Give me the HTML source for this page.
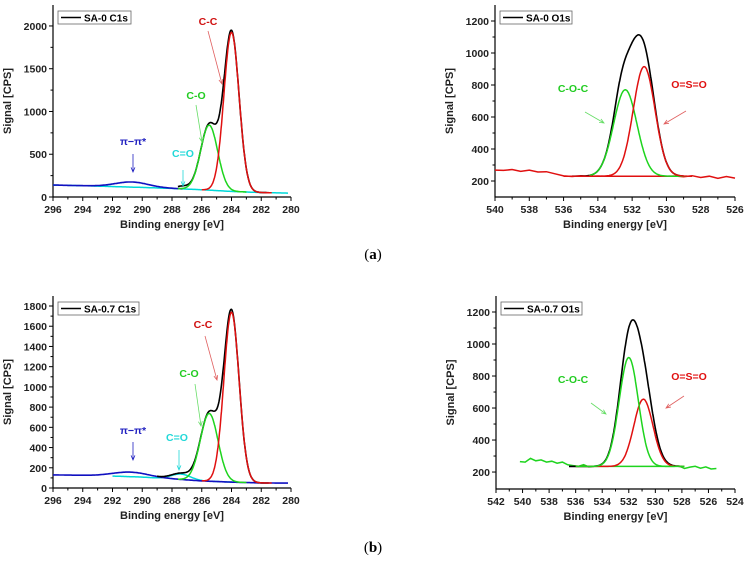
<!DOCTYPE html>
<html><head><meta charset="utf-8"><style>
html,body{margin:0;padding:0;background:#fff;width:747px;height:562px;overflow:hidden}
svg{display:block;font-family:"Liberation Sans",sans-serif}
.tk{font-size:10.5px;font-weight:bold;fill:#222}
.tt{font-size:11px;font-weight:bold;fill:#222}
</style></head><body>
<svg id="fig" width="747" height="562" viewBox="0 0 747 562">
<text x="373" y="259" font-family="Liberation Serif" font-size="15" text-anchor="middle">(<tspan font-weight="bold">a</tspan>)</text>
<text x="373" y="552" font-family="Liberation Serif" font-size="15" text-anchor="middle">(<tspan font-weight="bold">b</tspan>)</text>
</svg>
<script>
// ---- data: peak components (center eV, height CPS above baseline, FWHM eV) ----
const aCenters=[284.0,285.5,287.3,290.7];
const aHeights=[1860,760,30,60];
const aFwhm=[1.2,1.35,1.0,2.6];
const aBaseX=[296,294,292,290,288,286,284,282,280];
const aBaseY=[140,132,122,112,100,85,65,52,45];

const bCenters=[531.3,532.4];
const bHeights=[685,540];
const bFwhm=[1.5,1.6];
const bBgX=[540,539.5,539,538.5,538,537.5,537,536.5,536,535.5,535,534.5,534,533.5,533,532.5,532,531.5,531,530.5,530,529.5,529,528.5,528,527.5,527,526.5,526];
const bBgY=[268,266,272,260,268,256,258,245,232,228,233,230,231,230,230,230,230,230,230,230,230,231,226,233,222,230,217,228,218];

const cCenters=[284.0,285.5,287.4,290.8];
const cHeights=[1680,670,60,45];
const cFwhm=[1.2,1.4,1.5,2.8];
const cBaseX=[296,294,292,290,288,286,284,282,280.2];
const cBaseY=[130,125,118,108,90,70,58,50,48];

const dCenters=[532.0,530.9];
const dHeights=[680,420];
const dFwhm=[1.7,1.7];
const dResidual=[531.3,70,2.4];
const dBgX=[540.2,539.8,539.4,539,538.6,538.2,537.8,537.4,537,536.6,536.2,535.8,535.4,535,534.6,534.2,533.8,533.4,533,532.6,532.2,531.8,531.4,531,530.6,530.2,529.8,529.4,529,528.6,528.2,527.8,527.4,527,526.6,526.2,525.8,525.4];
const dBgY=[265,262,285,270,276,262,268,255,262,245,240,236,246,232,236,235,235,235,235,235,235,235,235,235,235,235,235,235,235,235,238,222,231,236,224,232,219,222];

const xTicksC1s=[296,294,292,290,288,286,284,282,280];
const xTicksB=[540,538,536,534,532,530,528,526];
const xTicksD=[542,540,538,536,534,532,530,528,526,524];
const yTicksA=[0,500,1000,1500,2000];
const yTicksB=[200,400,600,800,1000,1200];
const yTicksC=[0,200,400,600,800,1000,1200,1400,1600,1800];

const NS='http://www.w3.org/2000/svg';
const svg=document.getElementById('fig');
function mk(tag,attrs,parent){const e=document.createElementNS(NS,tag);for(const k in attrs)e.setAttribute(k,attrs[k]);(parent||svg).appendChild(e);return e;}
function gauss(x,c,h,f){const s=f/2.3548;return h*Math.exp(-(x-c)*(x-c)/(2*s*s));}
function interp(xs,ys,x){for(let i=0;i<xs.length-1;i++){const a=xs[i],b=xs[i+1];if((x<=a&&x>=b)||(x>=a&&x<=b)){const t=(x-a)/(b-a);return ys[i]+t*(ys[i+1]-ys[i]);}}return x>Math.max(xs[0],xs[xs.length-1])===(xs[0]>xs[1])?ys[0]:ys[ys.length-1];}

function panel(p){
  const g=mk('g',{});
  
  
  const sx=v=>p.l+(p.x0-v)/(p.x0-p.x1)*(p.r-p.l);
  const sy=v=>p.b-(v-p.y0)/(p.y1-p.y0)*(p.b-p.t);
  const ax=mk('path',{d:`M${p.l},${p.t}V${p.b}H${p.r}`,stroke:'#000','stroke-width':1.2,fill:'none'},g);
  
  
  p.xt.forEach((v,i)=>{
    const x=sx(v);
    mk('line',{x1:x,x2:x,y1:p.b,y2:p.b+4,stroke:'#000'},g);
    if(i<p.xt.length-1){const xm=sx((v+p.xt[i+1])/2);mk('line',{x1:xm,x2:xm,y1:p.b,y2:p.b+2.5,stroke:'#000'},g);}
    const t=mk('text',{x:x,y:p.b+16,'text-anchor':'middle',class:'tk'},g);t.textContent=v;
    
    
  });
  p.yt.forEach((v,i)=>{
    const y=sy(v);
    mk('line',{x1:p.l-4,x2:p.l,y1:y,y2:y,stroke:'#000'},g);
    const step=p.yt[1]-p.yt[0];const ym=sy(v+step/2);
    if(ym>p.t)mk('line',{x1:p.l-2.5,x2:p.l,y1:ym,y2:ym,stroke:'#000'},g);
    const t=mk('text',{x:p.l-6,y:y+4,'text-anchor':'end',class:'tk'},g);t.textContent=v;
    
    
  });
  const xt=mk('text',{x:(p.l+p.r)/2,y:p.b+31,'text-anchor':'middle',class:'tt'},g);xt.textContent='Binding energy [eV]';
  
  
  const cy=(p.t+p.b)/2;
  const yt=mk('text',{x:p.l-42,y:cy,'text-anchor':'middle',class:'tt',transform:`rotate(-90 ${p.l-42} ${cy})`},g);yt.textContent='Signal [CPS]';
  
  
  const lg=mk('g',{},g);
  
  
  mk('rect',{x:p.l+5,y:p.t+6,width:p.legW,height:13,fill:'#fff',stroke:'#666','stroke-width':0.8},lg);
  mk('line',{x1:p.l+8,x2:p.l+28,y1:p.t+12.5,y2:p.t+12.5,stroke:'#000','stroke-width':1.5},lg);
  const lt=mk('text',{x:p.l+31,y:p.t+16.5,style:'font-size:10px;font-weight:bold'},lg);lt.textContent=p.legend;
  g.curve=function(fn,xa,xb,color,name,w){
    let d='';const n=220;
    for(let i=0;i<=n;i++){const x=xa+(xb-xa)*i/n;d+=(i?'L':'M')+sx(x).toFixed(1)+','+sy(fn(x)).toFixed(1);}
    const e=mk('path',{d:d,stroke:color,'stroke-width':w||1.5,fill:'none'},g);
    
    
  };
  g.pts=function(xs,ys,color,name){
    const d=xs.map((x,i)=>(i?'L':'M')+sx(x).toFixed(1)+','+sy(ys[i]).toFixed(1)).join('');
    const e=mk('path',{d:d,stroke:color,'stroke-width':1.5,fill:'none'},g);
    
    
  };
  g.label=function(txt,x,y,color,name){
    const t=mk('text',{x:x,y:y,fill:color,'text-anchor':'middle',style:'font-size:10.5px;font-weight:bold'},g);t.textContent=txt;
    
    
  };
  g.arrow=function(x1,y1,x2,y2,color,name){
    const a=Math.atan2(y2-y1,x2-x1),L=5;
    const e=mk('path',{d:`M${x1},${y1}L${x2},${y2}M${x2-L*Math.cos(a-0.4)},${y2-L*Math.sin(a-0.4)}L${x2},${y2}L${x2-L*Math.cos(a+0.4)},${y2-L*Math.sin(a+0.4)}`,stroke:color,'stroke-width':0.8,fill:'none'},g);
    
    
  };
  return g;
}

// ---- Panel A ----
(function(){
  const p={name:'panel-sa0-c1s',l:53,r:291,t:5,b:197,x0:296,x1:280,y0:0,y1:2245,xt:xTicksC1s,yt:yTicksA,legend:'SA-0 C1s',legW:73};
  const g=panel(p);
  const base=x=>interp(aBaseX,aBaseY,x);
  const env=x=>base(x)+aCenters.reduce((s,c,i)=>s+gauss(x,c,aHeights[i],aFwhm[i]),0);
  g.curve(base,296,280.2,'#00d8d8','baseline-cyan');
  g.curve(x=>base(x)+gauss(x,aCenters[3],aHeights[3],aFwhm[3]),296,287.3,'#1010c0','pi-pi-star-curve',1.6);
  g.curve(env,287.6,281.5,'#000','experimental-envelope',1.6);
  g.curve(x=>base(x)+gauss(x,aCenters[1],aHeights[1],aFwhm[1]),287.6,283,'#1ed41e','c-o-peak');
  g.curve(x=>base(x)+gauss(x,aCenters[0],aHeights[0],aFwhm[0]),286,281.3,'#e01010','c-c-peak');
  g.label('C-C',208,25,'#d01010','c-c-label');g.arrow(208,31,222,84,'#e06060','c-c-arrow');
  g.label('C-O',196,99,'#22cc22','c-o-label');g.arrow(196,105,202,142,'#66dd66','c-o-arrow');
  g.label('C=O',183,157,'#22d8d8','c-eq-o-label');g.arrow(183,170,183,186,'#22d8d8','c-eq-o-arrow');
  g.label('π−π*',133,145,'#2020c0','pi-pi-label');g.arrow(133,154,133,172,'#2020c0','pi-pi-arrow');
})();

// ---- Panel B ----
(function(){
  const p={name:'panel-sa0-o1s',l:495,r:735,t:5,b:197,x0:540,x1:526,y0:100,y1:1300,xt:xTicksB,yt:yTicksB,legend:'SA-0 O1s',legW:72};
  const g=panel(p);
  const base=()=>230;
  g.pts(bBgX,bBgY,'#e01010','background-red');
  g.curve(x=>base()+bCenters.reduce((s,c,i)=>s+gauss(x,c,bHeights[i],bFwhm[i]),0)+gauss(x,532.7,60,0.8),535.5,529,'#000','experimental-envelope',1.6);
  g.curve(x=>base()+gauss(x,bCenters[1],bHeights[1],bFwhm[1]),534.5,528.5,'#1ed41e','c-o-c-peak');
  g.curve(x=>base()+gauss(x,bCenters[0],bHeights[0],bFwhm[0]),536,528.5,'#e01010','o-s-o-peak');
  g.label('C-O-C',573,92,'#22cc22','c-o-c-label');g.arrow(585,112,604,123,'#66dd66','c-o-c-arrow');
  g.label('O=S=O',689,88,'#e01010','o-s-o-label');g.arrow(686,111,664,124,'#e06060','o-s-o-arrow');
})();

// ---- Panel C ----
(function(){
  const p={name:'panel-sa07-c1s',l:53,r:291,t:296,b:488,x0:296,x1:280,y0:0,y1:1899,xt:xTicksC1s,yt:yTicksC,legend:'SA-0.7 C1s',legW:81};
  const g=panel(p);
  const base=x=>interp(cBaseX,cBaseY,x);
  const env=x=>base(x)+cCenters.reduce((s,c,i)=>s+gauss(x,c,cHeights[i],cFwhm[i]),0);
  g.curve(x=>base(x)+gauss(x,cCenters[2],cHeights[2],cFwhm[2])*0.9,292,283.5,'#00d8d8','c-eq-o-peak');
  g.curve(x=>base(x)+gauss(x,cCenters[3],cHeights[3],cFwhm[3]),296,280.2,'#1010c0','baseline-blue',1.6);
  g.curve(env,289,281.5,'#000','experimental-envelope',1.6);
  g.curve(x=>base(x)+gauss(x,cCenters[1],cHeights[1],cFwhm[1]),287.6,283,'#1ed41e','c-o-peak');
  g.curve(x=>base(x)+gauss(x,cCenters[0],cHeights[0],cFwhm[0]),286,281.3,'#e01010','c-c-peak');
  g.label('C-C',203,328,'#d01010','c-c-label');g.arrow(205,336,217,380,'#e06060','c-c-arrow');
  g.label('C-O',189,377,'#22cc22','c-o-label');g.arrow(195,384,201,426,'#66dd66','c-o-arrow');
  g.label('C=O',177,441,'#22d8d8','c-eq-o-label');g.arrow(179,450,179,470,'#22d8d8','c-eq-o-arrow');
  g.label('π−π*',133,434,'#2020c0','pi-pi-label');g.arrow(133,442,133,460,'#2020c0','pi-pi-arrow');
})();

// ---- Panel D ----
(function(){
  const p={name:'panel-sa07-o1s',l:496,r:735,t:296,b:489,x0:542,x1:524,y0:94,y1:1300,xt:xTicksD,yt:yTicksB,legend:'SA-0.7 O1s',legW:81};
  const g=panel(p);
  const base=()=>235;
  g.pts(dBgX,dBgY,'#1ed41e','background-green');
  g.curve(x=>base()+dCenters.reduce((s,c,i)=>s+gauss(x,c,dHeights[i],dFwhm[i]),0)+gauss(x,dResidual[0],dResidual[1],dResidual[2]),536.5,528,'#000','experimental-envelope',1.6);
  g.curve(x=>base()+gauss(x,dCenters[1],dHeights[1],dFwhm[1]),536,527.8,'#e01010','o-s-o-peak');
  g.curve(x=>base()+gauss(x,dCenters[0],dHeights[0],dFwhm[0]),536,527.8,'#1ed41e','c-o-c-peak');
  g.label('C-O-C',573,383,'#22cc22','c-o-c-label');g.arrow(591,403,606,414,'#66dd66','c-o-c-arrow');
  g.label('O=S=O',689,380,'#e01010','o-s-o-label');g.arrow(684,396,666,408,'#e06060','o-s-o-arrow');
})();
</script>
</body></html>
